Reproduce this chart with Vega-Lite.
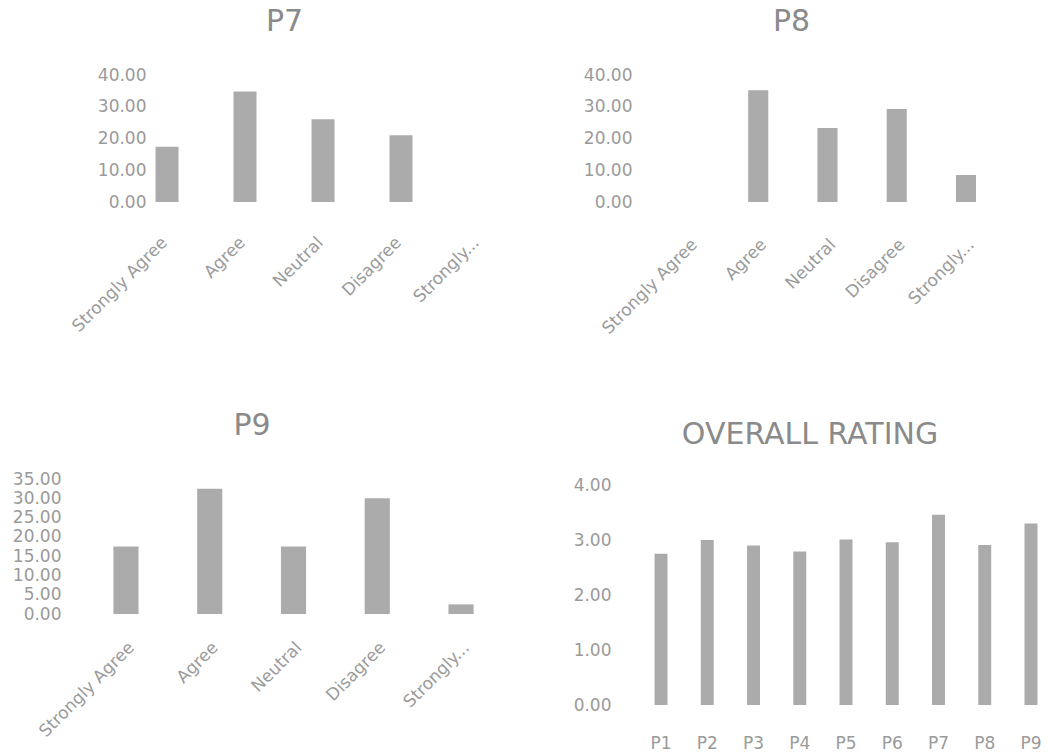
{
  "$schema": "https://vega.github.io/schema/vega-lite/v6.json",
  "background": "white",
  "padding": {"left": 12, "top": 7, "right": 0, "bottom": 0},
  "datasets": {
    "p7": [
      {"response": "Strongly Agree", "percent": 17.39},
      {"response": "Agree", "percent": 34.78},
      {"response": "Neutral", "percent": 26.09},
      {"response": "Disagree", "percent": 21.0},
      {"response": "Strongly Disagree", "percent": 0}
    ],
    "p8": [
      {"response": "Strongly Agree", "percent": 0},
      {"response": "Agree", "percent": 35.2},
      {"response": "Neutral", "percent": 23.3},
      {"response": "Disagree", "percent": 29.3},
      {"response": "Strongly Disagree", "percent": 8.5}
    ],
    "p9": [
      {"response": "Strongly Agree", "percent": 17.5},
      {"response": "Agree", "percent": 32.5},
      {"response": "Neutral", "percent": 17.5},
      {"response": "Disagree", "percent": 30.0},
      {"response": "Strongly Disagree", "percent": 2.5}
    ],
    "overall": [
      {"question": "P1", "rating": 2.75},
      {"question": "P2", "rating": 3.0},
      {"question": "P3", "rating": 2.9},
      {"question": "P4", "rating": 2.79},
      {"question": "P5", "rating": 3.01},
      {"question": "P6", "rating": 2.96},
      {"question": "P7", "rating": 3.46},
      {"question": "P8", "rating": 2.91},
      {"question": "P9", "rating": 3.3}
    ]
  },
  "columns": 2,
  "align": "none",
  "bounds": "flush",
  "spacing": {"row": 277, "column": 69},
  "concat": [
    {
      "data": {"name": "p7"},
      "width": 481,
      "height": 127,
      "title": {"text": "P7", "dx": -21, "offset": 29},
      "mark": {"type": "bar", "color": "#ababab"},
      "encoding": {
        "x": {
          "field": "response", "type": "nominal", "sort": null,
          "scale": {"paddingInner": 0.705, "paddingOuter": 0.936, "align": 0.62},
          "axis": {"labelAngle": -45, "labelAlign": "right", "labelBaseline": "top", "labelPadding": 32, "labelOffset": -8,
                   "labelExpr": "datum.label == 'Strongly Disagree' ? 'Strongly...' : datum.label"}
        },
        "y": {
          "field": "percent", "type": "quantitative",
          "scale": {"domain": [0, 40], "nice": false},
          "axis": {"values": [0, 10, 20, 30, 40], "format": ".2f", "offset": -85}
        }
      }
    },
    {
      "data": {"name": "p8"},
      "width": 421,
      "height": 127,
      "title": {"text": "P8", "dx": -34, "offset": 29},
      "mark": {"type": "bar", "color": "#ababab"},
      "encoding": {
        "x": {
          "field": "response", "type": "nominal", "sort": null,
          "scale": {"paddingInner": 0.71, "paddingOuter": 0.895, "align": 0.516},
          "axis": {"labelAngle": -45, "labelAlign": "right", "labelBaseline": "top", "labelPadding": 34,
                   "labelExpr": "datum.label == 'Strongly Disagree' ? 'Strongly...' : datum.label"}
        },
        "y": {
          "field": "percent", "type": "quantitative",
          "scale": {"domain": [0, 40], "nice": false},
          "axis": {"values": [0, 10, 20, 30, 40], "format": ".2f", "offset": -21}
        }
      }
    },
    {
      "data": {"name": "p9"},
      "width": 460,
      "height": 135,
      "title": {"text": "P9", "dx": -43, "offset": 29},
      "mark": {"type": "bar", "color": "#ababab"},
      "encoding": {
        "x": {
          "field": "response", "type": "nominal", "sort": null,
          "scale": {"paddingInner": 0.70, "paddingOuter": 0.596, "align": 0.485},
          "axis": {"labelAngle": -45, "labelAlign": "right", "labelBaseline": "top", "labelPadding": 25,
                   "labelExpr": "datum.label == 'Strongly Disagree' ? 'Strongly...' : datum.label"}
        },
        "y": {
          "field": "percent", "type": "quantitative",
          "scale": {"domain": [0, 35], "nice": false},
          "axis": {"values": [0, 5, 10, 15, 20, 25, 30, 35], "format": ".2f"}
        }
      }
    },
    {
      "data": {"name": "overall"},
      "width": 430,
      "height": 226,
      "title": {"text": "OVERALL RATING", "dx": -20, "offset": 26, "fontSize": 30},
      "mark": {"type": "bar", "color": "#ababab"},
      "encoding": {
        "x": {
          "field": "question", "type": "nominal", "sort": null,
          "scale": {"paddingInner": 0.72, "paddingOuter": 0.509, "align": 0.84},
          "axis": {"labelAngle": 0, "labelAlign": "center", "labelBaseline": "top", "labelPadding": 30}
        },
        "y": {
          "field": "rating", "type": "quantitative",
          "scale": {"domain": [0, 4.11], "nice": false},
          "axis": {"values": [0, 1, 2, 3, 4], "format": ".2f"}
        }
      }
    }
  ],
  "config": {
    "font": "DejaVu Sans",
    "view": {"stroke": null},
    "axis": {
      "title": null,
      "domain": false,
      "ticks": false,
      "grid": false,
      "labelColor": "#9a9a9a",
      "labelFont": "DejaVu Sans",
      "labelFontSize": 17,
      "labelFontWeight": "normal",
      "labelOverlap": false,
      "labelLimit": 300
    },
    "axisY": {"labelPadding": 4},
    "title": {
      "font": "DejaVu Sans",
      "fontSize": 30,
      "fontWeight": "normal",
      "color": "#8a8a8a",
      "anchor": "middle",
      "frame": "group",
      "baseline": "alphabetic"
    }
  }
}
